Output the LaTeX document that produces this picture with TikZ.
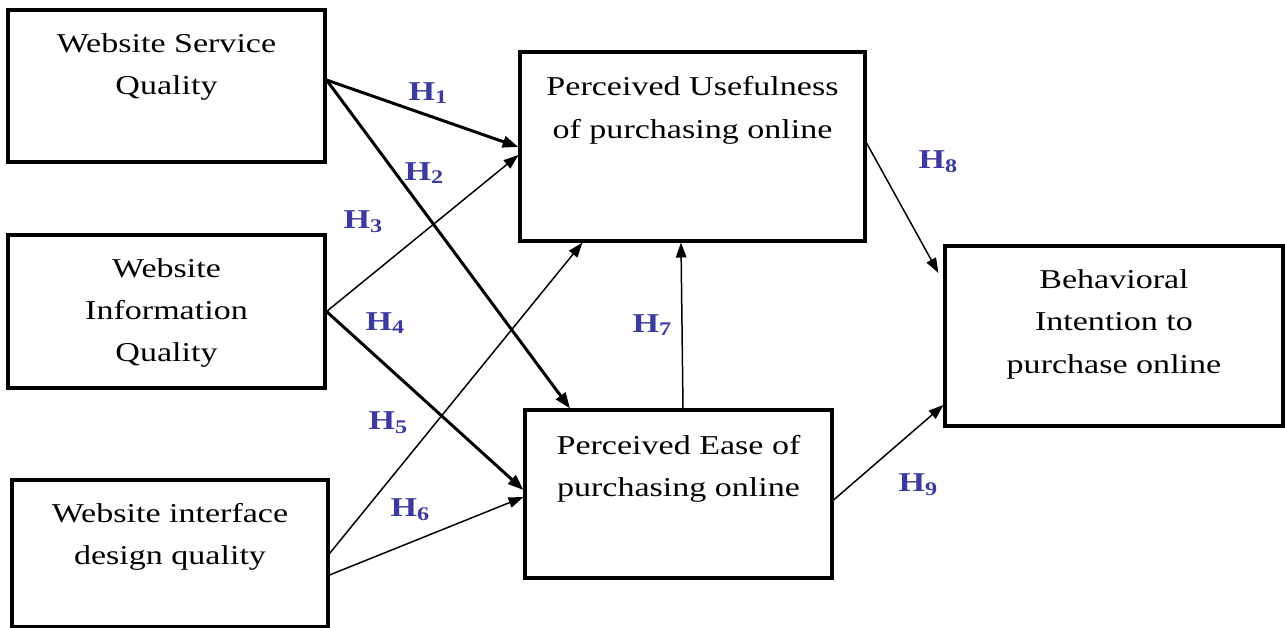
\documentclass[tikz,border=0pt]{standalone}
\usepackage{fontspec}
\setmainfont[FakeStretch=1.25]{Liberation Serif}
\usepackage{tikz}
\usetikzlibrary{arrows.meta,positioning}
\definecolor{hblue}{RGB}{58,58,160}
\tikzset{
  box/.style={draw, line width=1.8pt, inner sep=0pt},
  boxtext/.style={align=center, inner sep=0pt, font=\fontsize{15.5}{24}\selectfont},
  hlabel/.style={text=hblue, inner sep=0pt, font=\fontsize{15.5}{18}\selectfont\bfseries},
  heavy/.style={line width=1.7pt, -{Triangle[length=9pt,width=6.5pt]}},
  light/.style={line width=0.85pt, -{Triangle[length=8.5pt,width=6pt]}}
}
\newcommand{\hyp}[1]{H\raisebox{-0.3ex}{\fontsize{11}{11}\selectfont #1}}

\begin{document}
\begin{tikzpicture}[x=0.02cm, y=-0.02cm]
\useasboundingbox (0,0) rectangle (1285,628);

\node[box, minimum width=6.34cm, minimum height=3.04cm] (wsq) at (166.5,86) {};
\node[box, minimum width=6.34cm, minimum height=3.06cm] (wiq) at (166.5,311.5) {};
\node[box, minimum width=6.32cm, minimum height=2.94cm] (widq) at (170,553.5) {};
\node[box, minimum width=6.9cm, minimum height=3.78cm] (pu) at (692.5,146.5) {};
\node[box, minimum width=6.14cm, minimum height=3.36cm] (pe) at (678.5,494) {};
\node[box, minimum width=6.76cm, minimum height=3.6cm] (bi) at (1114,336) {};

\node[boxtext, below=0.49cm of wsq.north] (wsqt) {Website Service\\Quality};
\node[boxtext, below=0.49cm of wiq.north] (wiqt) {Website\\Information\\Quality};
\node[boxtext, below=0.49cm of widq.north] (widqt) {Website interface\\design quality};
\node[boxtext, below=0.52cm of pu.north] (put) {Perceived Usefulness\\of purchasing online};
\node[boxtext, below=0.53cm of pe.north] (pet) {Perceived Ease of\\purchasing online};
\node[boxtext, below=0.5cm of bi.north] (bit) {Behavioral\\Intention to\\purchase online};

\draw[heavy] ([yshift=0.12cm]wsq.east) -- ([yshift=-0.01cm]pu.west);
\draw[heavy] ([yshift=0.12cm]wsq.east) -- ([xshift=-2.17cm]pe.north);
\draw[light] (wiq.east) -- ([yshift=-0.17cm]pu.west);
\draw[heavy] (wiq.east) -- ([yshift=0.08cm]pe.west);
\draw[light] (widq.east) -- ([xshift=-2.2cm]pu.south);
\draw[light] ([yshift=-0.43cm]widq.east) -- ([yshift=-0.06cm]pe.west);
\draw[light] ([xshift=0.09cm]pe.north) -- ([xshift=-0.23cm]pu.south);
\draw[light] ([yshift=0.07cm]pu.east) -- ([xshift=-0.1cm,yshift=1.26cm]bi.west);
\draw[light] ([yshift=-0.12cm]pe.east) -- ([yshift=-1.38cm]bi.west);

\node[hlabel] (h1) at (428,93) {\hyp{1}};
\node[hlabel] (h2) at (424,173) {\hyp{2}};
\node[hlabel] (h3) at (363,222) {\hyp{3}};
\node[hlabel] (h4) at (385,323) {\hyp{4}};
\node[hlabel] (h5) at (388,423) {\hyp{5}};
\node[hlabel] (h6) at (410,510) {\hyp{6}};
\node[hlabel] (h7) at (652,325) {\hyp{7}};
\node[hlabel] (h8) at (938,162) {\hyp{8}};
\node[hlabel] (h9) at (918,485) {\hyp{9}};
\end{tikzpicture}
\end{document}
